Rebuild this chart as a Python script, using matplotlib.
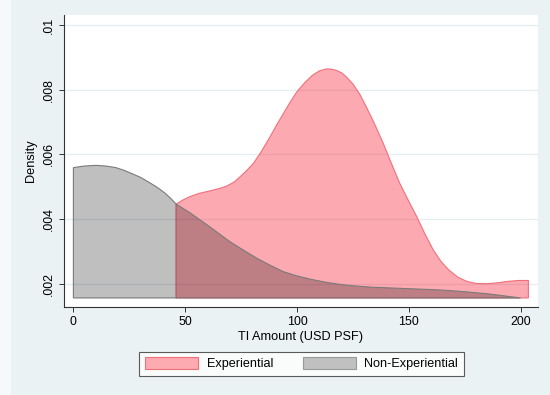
import matplotlib
matplotlib.use("Agg")
import matplotlib.pyplot as plt
from matplotlib.patches import Patch, Rectangle
import numpy as np

plt.rcParams["font.family"] = ["Liberation Sans", "DejaVu Sans"]

# kernel density curves
exp_x = [45.9, 49, 52, 56, 61, 65, 68.6, 72, 74.6, 77.5, 80.5, 84, 88, 91,
         94, 97, 100, 103.5, 107, 110, 113, 115, 117.5, 120, 122, 125, 128,
         131, 134.5, 138.6, 142, 146, 150, 153.6, 157, 161, 164.5, 168, 172,
         176, 180, 185, 190, 194, 199, 203.5]
exp_y = [.00446, .00459, .00469, .00479, .00487, .00494, .00502, .00515,
         .00531, .0055, .00572, .00608, .00655, .00692, .00727, .00762,
         .00794, .00822, .00845, .00858, .00864, .00864, .0086, .00852,
         .0084, .00818, .00787, .00747, .00697, .00634, .00576, .0051,
         .00455, .00407, .00357, .00304, .00268, .00242, .0022, .00207,
         .00201, .002, .00203, .00207, .0021, .0021]

nonexp_x = [0, 5, 10, 14.5, 19, 22.5, 26, 30, 33.5, 37.5, 41, 43.5, 46, 49,
            52, 56.5, 61, 65.5, 70, 76, 82, 88, 94, 100, 106, 112.5, 119,
            126, 134, 145, 156, 163, 170, 177, 185, 192, 200]
nonexp_y = [.00559, .00564, .00566, .00564, .00559, .00551, .00541, .00529,
            .00515, .00498, .0048, .00464, .00446, .00433, .0042, .00398,
            .00376, .00353, .0033, .00304, .00279, .00257, .00237, .00224,
            .00214, .00205, .00198, .00193, .00189, .00186, .00183, .00181,
            .00178, .00174, .00169, .00163, .00156]

base = 0.00156

x_ticks = [0, 50, 100, 150, 200]
y_ticks = [0.002, 0.004, 0.006, 0.008, 0.01]
y_tick_labels = [".002", ".004", ".006", ".008", ".01"]
labels = ["Experiential", "Non-Experiential"]

bg = "#eaf2f3"
pink_fill = (250 / 255, 40 / 255, 60 / 255, 0.4)
pink_line = "#f0707a"
grey_fill = (0, 0, 0, 0.25)
grey_line = "#7a7a7a"


def polygon(x, y, b):
    px = np.concatenate([[x[0]], x, [x[-1]]])
    py = np.concatenate([[b], y, [b]])
    return px, py


fig = plt.figure(figsize=(5.5, 3.95), dpi=100, facecolor=bg)
fig.patches.append(Rectangle((0, 0), 11 / 550, 1, transform=fig.transFigure,
                             facecolor="#f6f9fa", edgecolor="none", zorder=0))
ax = fig.add_axes([64 / 550, 1 - 307 / 395, 474 / 550, 292 / 395])
ax.set_facecolor("white")

ax.set_xlim(-4.2, 207.8)
ax.set_ylim(0.00128, 0.01031)

for t in y_ticks:
    ax.axhline(t, color="#e4eef0", lw=0.9, zorder=0.5)

px, py = polygon(exp_x, exp_y, base)
ax.fill(px, py, facecolor=pink_fill, edgecolor=pink_line, lw=0.8, zorder=2)
px, py = polygon(nonexp_x, nonexp_y, base)
ax.fill(px, py, facecolor=grey_fill, edgecolor=grey_line, lw=0.8, zorder=3)

for s in ["top", "right"]:
    ax.spines[s].set_visible(False)
for s in ["left", "bottom"]:
    ax.spines[s].set_color("#333333")
    ax.spines[s].set_linewidth(0.8)

ax.set_xticks(x_ticks)
ax.set_xticklabels([str(v) for v in x_ticks])
ax.set_yticks(y_ticks)
ax.set_yticklabels(y_tick_labels, rotation=90, va="center")
ax.tick_params(axis="both", length=3.6, width=0.7, color="#333333",
               labelsize=8.9, pad=3)

ax.set_xlabel("TI Amount (USD PSF)", fontsize=9.2, labelpad=2)
ax.set_ylabel("Density", fontsize=9.2, labelpad=4)

handles = [Patch(facecolor="#fdaab1", edgecolor=pink_line, lw=0.8),
           Patch(facecolor="#c0c0c0", edgecolor="#999999", lw=0.8)]
leg = fig.legend(handles, labels, loc="center", ncol=2,
                 bbox_to_anchor=(301.7 / 550, 1 - 363.9 / 395),
                 fontsize=9.1, frameon=True, fancybox=False,
                 handlelength=4.2, handleheight=1.0, handletextpad=0.7,
                 columnspacing=2.3, borderpad=0.45)
leg.get_frame().set_edgecolor("#333333")
leg.get_frame().set_linewidth(0.8)

fig.savefig("out.png", dpi=100, facecolor=bg)
